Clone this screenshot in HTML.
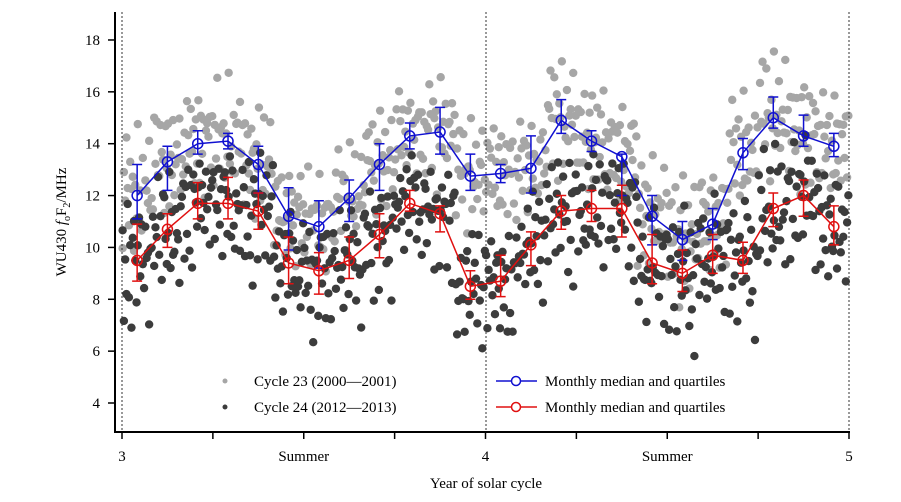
<!DOCTYPE html>
<html><head><meta charset="utf-8">
<style>
body{margin:0;background:#fff;}
svg{display:block;font-family:"Liberation Serif",serif;}
</style></head>
<body>
<svg id="chart" width="901" height="502" viewBox="0 0 901 502">
<g id="scatter23"></g>
<g id="scatter24"></g>
<g id="frame">
 <line x1="122" y1="12" x2="122" y2="432" stroke="#333" stroke-dasharray="2,2"/>
 <line x1="486" y1="12" x2="486" y2="432" stroke="#333" stroke-dasharray="2,2"/>
 <line x1="849" y1="12" x2="849" y2="432" stroke="#333" stroke-dasharray="2,2"/>
 <line x1="115" y1="12" x2="115" y2="433" stroke="#000" stroke-width="2"/>
 <line x1="114" y1="432" x2="850" y2="432" stroke="#000" stroke-width="2"/>
</g>
<g id="lines"></g>
<g id="axes"></g>
<text transform="translate(66,222) rotate(-90)" text-anchor="middle" font-size="15">WU430 <tspan font-style="italic">f</tspan><tspan font-size="10" dy="4">o</tspan><tspan dy="-4">F</tspan><tspan font-size="10" dy="4">2</tspan><tspan dy="-4">/MHz</tspan></text>
<text x="486" y="488" text-anchor="middle" font-size="15">Year of solar cycle</text>
<g font-size="15">
 <g><circle cx="225" cy="381" r="2.5" fill="#a6a6a6"/><text x="254" y="386">Cycle 23 (2000—2001)</text></g>
 <g><circle cx="225" cy="407" r="2.5" fill="#3c3c3c"/><text x="254" y="412">Cycle 24 (2012—2013)</text></g>
 <g><line x1="496" y1="381" x2="537" y2="381" stroke="#1010d0" stroke-width="1.5"/><circle cx="516" cy="381" r="4.5" fill="#fff" stroke="#1010d0" stroke-width="1.5"/><text x="545" y="386">Monthly median and quartiles</text></g>
 <g><line x1="496" y1="407" x2="537" y2="407" stroke="#e01010" stroke-width="1.5"/><circle cx="516" cy="407" r="4.5" fill="#fff" stroke="#e01010" stroke-width="1.5"/><text x="545" y="412">Monthly median and quartiles</text></g>
</g>
</svg>
<script>
const blueMedian=[12.0,13.3,14.0,14.1,13.2,11.2,10.8,11.9,13.2,14.3,14.45,12.75,12.85,13.05,14.9,14.1,13.5,11.2,10.3,10.9,13.65,15.0,14.3,13.9];
const blueLow=[11.1,12.2,13.6,13.8,12.1,9.9,9.2,11.0,12.2,13.8,13.6,12.2,12.5,12.1,14.4,13.7,12.0,10.1,9.5,10.3,13.0,14.6,13.9,13.5];
const blueHigh=[13.2,13.9,14.5,14.4,13.9,12.3,11.8,12.6,14.0,14.8,15.4,13.6,13.2,14.3,15.7,14.5,13.6,12.0,11.0,11.5,14.2,15.8,15.1,14.4];
const redMedian=[9.5,10.7,11.7,11.7,11.4,9.4,9.1,9.5,10.5,11.7,11.3,8.5,8.7,10.1,11.4,11.5,11.5,9.4,9.0,9.7,9.5,11.5,12.0,10.8];
const redLow=[8.7,10.0,11.1,11.1,10.7,8.6,8.2,8.8,9.6,11.4,10.6,8.0,8.1,9.3,10.7,11.0,10.4,8.6,8.3,9.0,9.0,10.8,11.2,10.1];
const redHigh=[10.9,11.3,12.5,12.7,12.1,10.4,9.8,10.4,11.3,12.2,11.6,9.1,9.7,10.6,12.0,12.2,12.4,10.5,9.9,10.5,10.2,12.1,12.6,11.6];
const yTicks=[4,6,8,10,12,14,16,18];
const xTickLabels=["3","Summer","4","Summer","5"];
const xTickValues=[3,3.5,4,4.5,5];
// per-month scatter deviations (MHz) around the monthly median, read as typical spread
const spread23=[-1.4,0.9,-0.3,1.6,0.2,-0.9,1.2,-0.1,0.5,-1.8,0.7,-0.5,1.9,-1.1,0.3,-0.6,1.0,-1.3,0.1,0.6,-0.2,1.4,-0.8,0.4];
const spread24=[0.8,-1.5,0.3,-0.4,1.5,-0.9,0.1,-1.9,0.6,1.1,-0.2,-1.2,0.4,1.8,-0.7,0.9,-0.1,-1.4,1.2,-0.6,0.2,-2.2,0.5,1.0];
const X=v=>122+(v-3)*363.5;
const Y=v=>403-(v-4)*25.93;
const NS="http://www.w3.org/2000/svg";
function mk(tag,attrs,parent){const e=document.createElementNS(NS,tag);for(const k in attrs)e.setAttribute(k,attrs[k]);parent.appendChild(e);return e;}
const monthX=i=>X(3+(i+0.5)/12);
function scatter(gid,med,spread,color,name){
 const g=document.getElementById(gid);
 med.forEach((m,i)=>{
  spread.forEach((d,j)=>{
   const fx=3+(i+(j+0.5)/spread.length)/12;
   const d2=spread[(j*7+i*5)%spread.length];
   const val=m+d*1.05+d2*0.4;
   const c=mk('circle',{cx:X(fx),cy:Y(val),r:4.2,fill:color},g);
   
   
  });
 });
}
scatter('scatter23',blueMedian,spread23,'#a6a6a6','cycle23-point');
scatter('scatter24',redMedian,spread24,'#3c3c3c','cycle24-point');
function series(med,lo,hi,color,name){
 const g=document.getElementById('lines');
 const pts=med.map((m,i)=>monthX(i)+','+Y(m)).join(' ');
 const pl=mk('polyline',{points:pts,fill:'none',stroke:color,'stroke-width':1.5},g);
 
 
 med.forEach((m,i)=>{
  const x=monthX(i);
  const eb=mk('path',{d:`M${x},${Y(lo[i])}V${Y(hi[i])}M${x-5},${Y(lo[i])}H${x+5}M${x-5},${Y(hi[i])}H${x+5}`,stroke:color,'stroke-width':1.5,fill:'none'},g);
  
  
  const c=mk('circle',{cx:x,cy:Y(m),r:5,fill:'none',stroke:color,'stroke-width':1.5},g);
  
  
 });
}
series(blueMedian,blueLow,blueHigh,'#1010d0','cycle23-median');
series(redMedian,redLow,redHigh,'#e01010','cycle24-median');
const ax=document.getElementById('axes');
yTicks.forEach(v=>{
 const t=mk('line',{x1:108,x2:115,y1:Y(v),y2:Y(v),stroke:'#000','stroke-width':1.5},ax);
 
 
 const l=mk('text',{x:100,y:Y(v)+5,'text-anchor':'end','font-size':15},ax);
 l.textContent=v;
 
 
});
for(let k=0;k<=8;k++){
 const x=X(3+k*0.25);
 const t=mk('line',{x1:x,x2:x,y1:432,y2:439,stroke:'#000','stroke-width':1.5},ax);
 
 
}
xTickValues.forEach((v,i)=>{
 const l=mk('text',{x:X(v),y:461,'text-anchor':'middle','font-size':15},ax);
 l.textContent=xTickLabels[i];
 
 
});
</script>
</body></html>
